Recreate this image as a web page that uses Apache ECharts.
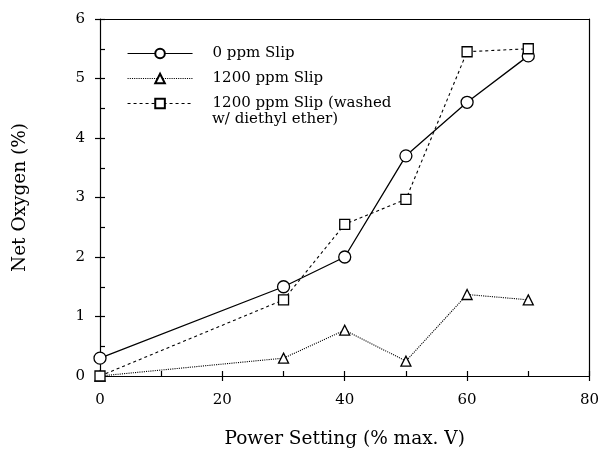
<!DOCTYPE html>
<html>
<head>
<meta charset="utf-8">
<script src="https://cdn.jsdelivr.net/npm/echarts@6/dist/echarts.min.js"></script>
<style>html,body{margin:0;padding:0;background:#fff}#c{width:602px;height:454px}</style>
</head>
<body>
<div id="c"></div>
<script>
var power = [0, 30, 40, 50, 60, 70];
var slip0 = [0.3, 1.5, 2.0, 3.7, 4.6, 5.38];
var slip1200 = [0, 0.3, 0.77, 0.25, 1.37, 1.28];
var slipWashed = [0, 1.28, 2.55, 2.97, 5.45, 5.5];
var seriesNames = ['0 ppm Slip', '1200 ppm Slip', '1200 ppm Slip (washed w/ diethyl ether)'];
var xTitle = 'Power Setting (% max. V)';
var yTitle = 'Net Oxygen (%)';

function pairs(xs, ys) { return xs.map(function (x, i) { return [x, ys[i]]; }); }

var FONT = 'DejaVu Serif';
var chart = echarts.init(document.getElementById('c'), null, {renderer: 'canvas'});
var axisLineStyle = {color: '#000', width: 1.2};
function mkSeries(name, data, symbol, size, lineType) {
  return {
    name: name, type: 'line', data: data, xAxisIndex: 0, yAxisIndex: 0,
    symbol: symbol, symbolSize: size, showSymbol: true,
    lineStyle: {color: '#000', width: lineType === 'solid' ? 1.3 : 1.1, type: lineType},
    itemStyle: {color: '#fff', borderColor: '#000', borderWidth: 1.3},
    z: 3, animation: false
  };
}
chart.setOption({
  animation: false,
  backgroundColor: '#fff',
  grid: {left: 100, right: 12, top: 19, bottom: 73, containLabel: false},
  legend: {
    orient: 'vertical', left: 122, top: 41, itemWidth: 65, itemHeight: 12, itemGap: 10,
    data: seriesNames,
    formatter: function (n) { return n === seriesNames[2] ? '1200 ppm Slip (washed' : n; },
    textStyle: {fontFamily: FONT, fontSize: 15, color: '#000', padding: [0, 0, 0, 15]},
    lineStyle: {width: 1.1},
    inactiveColor: '#000'
  },
  graphic: [{type: 'text', left: 212, top: 112, style: {text: 'w/ diethyl ether)', font: '15px "DejaVu Serif"', fill: '#000'}}],
  xAxis: [
    {type: 'value', position: 'bottom', min: 0, max: 80, interval: 20,
     name: xTitle, nameLocation: 'middle', nameGap: 54,
     nameTextStyle: {fontFamily: FONT, fontSize: 18.5, color: '#000'},
     axisLine: {lineStyle: axisLineStyle, onZero: false},
     axisTick: {show: true, inside: false, length: 5, lineStyle: {color: '#000', width: 1.2}},
     axisLabel: {fontFamily: FONT, fontSize: 15, color: '#000', margin: 17},
     splitLine: {show: false}},
    {type: 'value', position: 'top', min: 0, max: 80, interval: 20,
     axisLine: {show: true, lineStyle: axisLineStyle, onZero: false},
     axisTick: {show: false}, axisLabel: {show: false}, splitLine: {show: false}},
    {type: 'value', position: 'bottom', offset: 0, min: 0, max: 80, interval: 10,
     axisLine: {show: false, onZero: false},
     axisTick: {show: true, inside: true, length: 5, lineStyle: {color: '#000', width: 1.2}},
     axisLabel: {show: false}, splitLine: {show: false}}
  ],
  yAxis: [
    {type: 'value', position: 'left', min: 0, max: 6, interval: 1,
     name: yTitle, nameLocation: 'middle', nameGap: 70, nameRotate: 90,
     nameTextStyle: {fontFamily: FONT, fontSize: 18.5, color: '#000'},
     axisLine: {lineStyle: axisLineStyle, onZero: false},
     axisTick: {show: true, inside: false, length: 5, lineStyle: {color: '#000', width: 1.2}},
     axisLabel: {fontFamily: FONT, fontSize: 15, color: '#000', margin: 15},
     splitLine: {show: false}},
    {type: 'value', position: 'right', min: 0, max: 6, interval: 1,
     axisLine: {show: true, lineStyle: axisLineStyle, onZero: false},
     axisTick: {show: false}, axisLabel: {show: false}, splitLine: {show: false}},
    {type: 'value', position: 'left', offset: 0, min: 0, max: 6, interval: 0.5,
     axisLine: {show: false, onZero: false},
     axisTick: {show: true, inside: true, length: 5, lineStyle: {color: '#000', width: 1.2}},
     axisLabel: {show: false}, splitLine: {show: false}}
  ],
  series: [
    mkSeries(seriesNames[0], pairs(power, slip0), 'circle', 12, 'solid'),
    mkSeries(seriesNames[1], pairs(power, slip1200), 'triangle', 10, 'dotted'),
    mkSeries(seriesNames[2], pairs(power, slipWashed), 'rect', 10, [3, 3])
  ]
});
</script>
</body>
</html>
